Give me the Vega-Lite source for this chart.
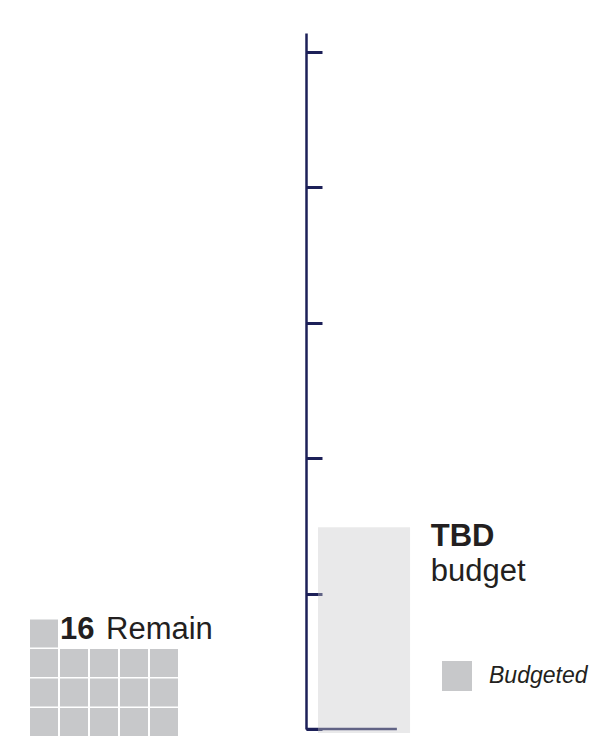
{
  "$schema": "https://vega.github.io/schema/vega-lite/v6.json",
  "width": 605,
  "height": 696,
  "autosize": {"type": "none"},
  "padding": {"top": 33, "left": 0, "right": 0, "bottom": 7},
  "config": {"view": {"stroke": null}, "font": "Liberation Sans"},
  "layer": [
    {
      "data": {"values": [{"category": "Budgeted", "amount": 1.49, "label": "TBD", "note": "budget"}]},
      "layer": [
        {
          "mark": {"type": "rule", "color": "#1d2058", "strokeWidth": 2.5},
          "encoding": {
            "x": {"datum": 50.6, "type": "quantitative", "scale": {"domain": [0, 100], "nice": false, "zero": false}, "axis": null},
            "x2": {"datum": 65.6},
            "y": {
              "datum": 0,
              "type": "quantitative",
              "scale": {"domain": [0, 5.14], "nice": false, "zero": false},
              "axis": {
                "orient": "right",
                "offset": -299,
                "values": [0, 1, 2, 3, 4, 5],
                "labels": false,
                "title": null,
                "grid": false,
                "domainColor": "#1d2058",
                "domainWidth": 2.5,
                "domainCap": "butt",
                "tickColor": "#1d2058",
                "tickWidth": 3,
                "tickSize": 16
              }
            }
          }
        },
        {
          "mark": {"type": "bar", "opacity": 0.4},
          "encoding": {
            "x": {"datum": 52.56, "type": "quantitative"},
            "x2": {"datum": 67.77},
            "y": {"field": "amount", "type": "quantitative"},
            "y2": {"datum": -0.03},
            "color": {
              "field": "category",
              "type": "nominal",
              "scale": {"range": ["#c7c8ca"]},
              "legend": {
                "title": null,
                "orient": "none",
                "legendX": 442,
                "legendY": 628,
                "padding": 0,
                "symbolType": "square",
                "symbolSize": 900,
                "symbolStrokeWidth": 0,
                "symbolOpacity": 1,
                "labelFont": "Liberation Sans",
                "labelFontSize": 23,
                "labelFontStyle": "italic",
                "labelColor": "#231f20",
                "labelOffset": 17,
                "encode": {"symbols": {"update": {"opacity": {"value": 1}, "fillOpacity": {"value": 1}}}}
              }
            }
          }
        },
        {
          "mark": {"type": "text", "fontSize": 31, "fontWeight": "bold", "align": "left", "baseline": "alphabetic", "color": "#231f20"},
          "encoding": {
            "x": {"datum": 71.2, "type": "quantitative"},
            "y": {"datum": 1.352, "type": "quantitative"},
            "text": {"field": "label"}
          }
        },
        {
          "mark": {"type": "text", "fontSize": 31, "align": "left", "baseline": "alphabetic", "color": "#231f20"},
          "encoding": {
            "x": {"datum": 71.2, "type": "quantitative"},
            "y": {"datum": 1.093, "type": "quantitative"},
            "text": {"field": "note"}
          }
        }
      ]
    },
    {
      "data": {
        "values": [
          {"col": 0, "row": 0}, {"col": 1, "row": 0}, {"col": 2, "row": 0}, {"col": 3, "row": 0}, {"col": 4, "row": 0},
          {"col": 0, "row": 1}, {"col": 1, "row": 1}, {"col": 2, "row": 1}, {"col": 3, "row": 1}, {"col": 4, "row": 1},
          {"col": 0, "row": 2}, {"col": 1, "row": 2}, {"col": 2, "row": 2}, {"col": 3, "row": 2}, {"col": 4, "row": 2},
          {"col": 0, "row": 3}
        ]
      },
      "layer": [
        {
          "mark": {"type": "square", "size": 784, "color": "#c7c8ca", "opacity": 1, "filled": true},
          "encoding": {
            "x": {"field": "col", "type": "quantitative", "scale": {"domain": [-1.4667, 18.7], "nice": false, "zero": false}, "axis": null},
            "y": {"field": "row", "type": "quantitative", "scale": {"domain": [-0.2373, 23.356], "nice": false, "zero": false}, "axis": null}
          }
        },
        {
          "data": {"values": [{"remaining": 16, "word": "Remain"}]},
          "layer": [
            {
              "mark": {"type": "text", "fontSize": 31, "fontWeight": "bold", "align": "left", "baseline": "alphabetic", "color": "#231f20"},
              "encoding": {
                "x": {"datum": 0.533, "type": "quantitative"},
                "y": {"datum": 2.814, "type": "quantitative"},
                "text": {"field": "remaining"}
              }
            },
            {
              "mark": {"type": "text", "fontSize": 31, "align": "left", "baseline": "alphabetic", "color": "#231f20"},
              "encoding": {
                "x": {"datum": 2.067, "type": "quantitative"},
                "y": {"datum": 2.814, "type": "quantitative"},
                "text": {"field": "word"}
              }
            }
          ]
        }
      ]
    }
  ],
  "resolve": {"scale": {"x": "independent", "y": "independent"}}
}
